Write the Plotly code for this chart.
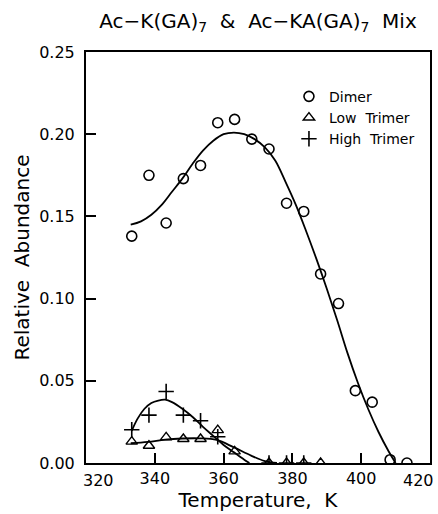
import plotly.graph_objects as go

# ---- data ----
temps = [333.3, 338.3, 343.3, 348.3, 353.3, 358.3, 363.2, 368.2, 373.2,
         378.3, 383.3, 388.2, 393.4, 398.3, 403.2, 408.4, 413.3]
dimer = [0.138, 0.175, 0.146, 0.173, 0.181, 0.207, 0.209, 0.197, 0.191,
         0.158, 0.153, 0.115, 0.097, 0.044, 0.037, 0.002, 0.000]

low_t = [333.3, 338.3, 343.3, 348.3, 353.3, 358.3, 363.2, 373.2, 378.3, 383.3, 388.2]
low_trimer = [0.013, 0.0105, 0.0156, 0.0146, 0.0146, 0.020, 0.0071, 0.0, 0.0, 0.0, 0.0]

high_t = [333.3, 338.3, 343.3, 348.3, 353.3, 358.3, 373.2, 378.3, 383.3]
high_trimer = [0.0202, 0.0291, 0.0435, 0.0291, 0.0257, 0.016, 0.0, 0.0, 0.0]

# fitted curves
dimer_fit_t = [333, 336, 339, 342, 345, 348, 351, 354, 357, 360, 363, 366, 369,
               372, 375, 378, 381, 384, 387, 390, 393, 396, 399, 402, 405, 408, 410]
dimer_fit = [0.145, 0.147, 0.151, 0.157, 0.165, 0.173, 0.182, 0.190, 0.196, 0.200,
             0.201, 0.200, 0.197, 0.192, 0.184, 0.171, 0.157, 0.141, 0.124, 0.106,
             0.087, 0.067, 0.049, 0.033, 0.019, 0.007, 0.0]

low_fit_t = [333, 338, 343, 348, 353, 358, 363, 368, 372, 375.5]
low_fit = [0.012, 0.0128, 0.0142, 0.0149, 0.015, 0.014, 0.0095, 0.0045, 0.0012, 0.0]

high_fit_t = [333.3, 335, 337, 339, 341, 343, 345, 348, 351, 354, 357, 360, 363, 366, 367.5]
high_fit = [0.0196, 0.027, 0.033, 0.0365, 0.038, 0.0385, 0.037, 0.033, 0.028,
            0.022, 0.0165, 0.011, 0.0065, 0.002, 0.0]

x_ticks = [320, 340, 360, 380, 400, 420]
y_ticks = [0.00, 0.05, 0.10, 0.15, 0.20, 0.25]

FONT = "DejaVu Sans"

fig = go.Figure()

# curves
for xs, ys in [(dimer_fit_t, dimer_fit), (low_fit_t, low_fit), (high_fit_t, high_fit)]:
    fig.add_trace(go.Scatter(x=xs, y=ys, mode="lines", line=dict(color="black", width=1.8,
                                                                  shape="spline", smoothing=1.0),
                             showlegend=False, hoverinfo="skip"))

fig.add_trace(go.Scatter(x=temps, y=dimer, mode="markers", name="Dimer",
                         marker=dict(symbol="circle-open", size=10, color="black",
                                     line=dict(width=1.6, color="black"))))
fig.add_trace(go.Scatter(x=low_t, y=low_trimer, mode="markers", name="Low\u00a0 Trimer",
                         marker=dict(symbol="triangle-up-open", size=10, color="black",
                                     line=dict(width=1.4, color="black"))))
fig.add_trace(go.Scatter(x=high_t, y=high_trimer, mode="markers", name="High\u00a0 Trimer",
                         marker=dict(symbol="cross-thin-open", size=11, color="black",
                                     line=dict(width=1.6, color="black"))))

inner = [v for v in x_ticks if v not in (x_ticks[0], x_ticks[-1])]
fig.update_xaxes(range=[x_ticks[0], x_ticks[-1]], tickvals=inner,
                 ticktext=[str(v) for v in inner],
                 ticks="inside", ticklen=10, tickwidth=1.5, tickcolor="black",
                 showline=True, linecolor="black", linewidth=2, mirror=True,
                 showgrid=False, zeroline=False,
                 tickfont=dict(family=FONT, size=16, color="black"),
                 title=dict(text="Temperature,\u00a0 K", font=dict(family=FONT, size=20, color="black"),
                            standoff=6))
fig.update_yaxes(range=[y_ticks[0], y_ticks[-1]], tickvals=y_ticks,
                 ticktext=[f"{v:.2f}" for v in y_ticks],
                 ticks="inside", ticklen=10, tickwidth=1.5, tickcolor="black",
                 showline=True, linecolor="black", linewidth=2, mirror=True,
                 showgrid=False, zeroline=False, ticklabelstandoff=6,
                 tickfont=dict(family=FONT, size=16, color="black"),
                 title=dict(text="Relative\u00a0 Abundance", font=dict(family=FONT, size=20, color="black"),
                            standoff=4))

# end tick labels shifted inward as in the reference
for v, shift in [(x_ticks[0], 12), (x_ticks[-1], -12)]:
    fig.add_annotation(x=v, y=0, xref="x", yref="paper", text=str(v), showarrow=False,
                       xshift=shift, yshift=-6, yanchor="top",
                       font=dict(family=FONT, size=16, color="black"))

fig.update_layout(
    width=438, height=514,
    margin=dict(l=86, r=6, t=52, b=50),
    paper_bgcolor="white", plot_bgcolor="white",
    title=dict(text="Ac\u2212K(GA)<sub>7</sub>\u00a0 &\u00a0 Ac\u2212KA(GA)<sub>7</sub>\u00a0 Mix",
               x=0.5, xref="paper", xanchor="center", y=1 - 21 / 514, yref="container",
               yanchor="middle", font=dict(family=FONT, size=20, color="black")),
    legend=dict(x=0.59, y=0.93, xanchor="left", yanchor="top", bgcolor="rgba(0,0,0,0)",
                font=dict(family=FONT, size=14, color="black"), tracegroupgap=0),
    showlegend=True,
)

fig.write_html("out.html")
